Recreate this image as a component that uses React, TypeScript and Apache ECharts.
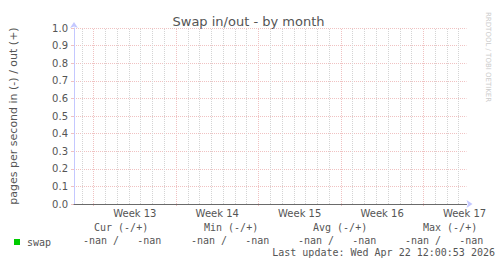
import { useEffect, useRef } from 'react';
import * as echarts from 'echarts';

const chartTitle = 'Swap in/out - by month';
const yAxisName = 'pages per second in (-) / out (+)';
const credit = 'RRDTOOL / TOBI OETIKER';

// x axis unit: hours relative to the start of Week 13
const xMin = -40;
const xMax = 760;
const weekLabels = ['Week 13', 'Week 14', 'Week 15', 'Week 16', 'Week 17'];
const weekLabelHours = [84, 252, 420, 588, 756];
const weekStartHours = [0, 168, 336, 504, 672];
const dayHours = [
  -24, 24, 48, 72, 96, 120, 144, 192, 216, 240, 264, 288, 312, 360, 384, 408,
  432, 456, 480, 528, 552, 576, 600, 624, 648, 696, 720, 744,
];

const yMin = 0;
const yMax = 1;
const yInterval = 0.1;

// series: no data (all NaN)
const sampleHours = [-40, 760];
const swapIn: (number | null)[] = [null, null];
const swapOut: (number | null)[] = [null, null];

const legendHeaders = ['Cur (-/+)', 'Min (-/+)', 'Avg (-/+)', 'Max (-/+)'];
const legendValues = ['-nan /   -nan', '-nan /   -nan', '-nan /   -nan', '-nan /   -nan'];
const lastUpdate = 'Last update: Wed Apr 22 12:00:53 2026';

const headerX = [94, 204, 313, 423];
const valueX = [83, 191, 298, 405];

export default function App() {
  const ref = useRef<HTMLDivElement>(null);
  useEffect(() => {
    if (!ref.current) return;
    const chart = echarts.init(ref.current, null, { renderer: 'svg' });
    const txt = '#555555';
    const mono = 'DejaVu Sans Mono';
    const pink = '#f0c2c2';
    const gray = '#d4d4d4';
    const graphics: any[] = [];
    legendHeaders.forEach((h, i) => {
      graphics.push({
        type: 'text', x: headerX[i], y: 227,
        style: { text: h, fill: txt, font: `10px "${mono}"`, textVerticalAlign: 'middle' },
      });
    });
    legendValues.forEach((v, i) => {
      graphics.push({
        type: 'text', x: valueX[i], y: 240,
        style: { text: v, fill: txt, font: `10px "${mono}"`, textVerticalAlign: 'middle' },
      });
    });
    graphics.push({
      type: 'text', x: 495, y: 252,
      style: { text: lastUpdate, fill: txt, font: `10px "${mono}"`, textAlign: 'right', textVerticalAlign: 'middle' },
    });
    graphics.push({
      type: 'text', x: 488, y: 12, rotation: -Math.PI / 2,
      style: { text: credit, fill: '#cccccc', font: '7px "DejaVu Sans"', textAlign: 'left', textVerticalAlign: 'middle' },
    });

    const markData: any[] = [
      ...dayHours.map((h) => ({ xAxis: h, lineStyle: { color: gray, type: [1, 1], width: 1 } })),
      ...weekStartHours.map((h) => ({ xAxis: h, lineStyle: { color: pink, type: [1, 1], width: 1 } })),
    ];

    chart.setOption({
      animation: false,
      backgroundColor: '#ffffff',
      textStyle: { fontFamily: 'DejaVu Sans' },
      title: {
        text: chartTitle, left: 'center', top: 10,
        textStyle: { fontSize: 13, fontWeight: 'normal', color: '#555555', fontFamily: 'DejaVu Sans' },
      },
      legend: {
        data: ['swap'], left: 14, top: 237, padding: 0, icon: 'rect', itemWidth: 6, itemHeight: 6,
        itemGap: 0, textStyle: { fontFamily: mono, fontSize: 10, color: txt, padding: [0, 0, 0, 2] },
      },
      grid: { left: 66.5, top: 28, right: 30.5, bottom: 60, containLabel: false },
      xAxis: [
        {
          type: 'value', min: xMin, max: xMax, position: 'bottom',
          axisLine: { show: true, onZero: false, lineStyle: { color: '#c4c8ff' }, symbol: ['none', 'arrow'], symbolSize: [6, 6], symbolOffset: [0, 6] },
          axisTick: { show: true, customValues: weekStartHours, length: 2, inside: false, lineStyle: { color: pink } },
          axisLabel: {
            customValues: weekLabelHours, margin: 4, fontSize: 10, color: txt, fontFamily: 'DejaVu Sans',
            formatter: (v: number) => weekLabels[weekLabelHours.indexOf(v)] ?? '',
          },
          splitLine: { show: false },
        },
        {
          type: 'value', min: xMin, max: xMax, position: 'bottom', offset: 0, z: 5,
          axisLine: { show: true, onZero: false, lineStyle: { color: '#6a6a6a' } },
          axisTick: { show: false }, axisLabel: { show: false }, splitLine: { show: false },
        },
      ],
      yAxis: {
        type: 'value', min: yMin, max: yMax, interval: yInterval,
        name: yAxisName, nameLocation: 'middle', nameRotate: 90, nameGap: 55,
        nameTextStyle: { fontSize: 11, color: txt, fontFamily: 'DejaVu Sans' },
        axisLine: { show: true, onZero: false, lineStyle: { color: '#c4c8ff' }, symbol: ['none', 'arrow'], symbolSize: [6, 6], symbolOffset: [0, 6] },
        axisTick: { show: true, length: 3, lineStyle: { color: pink } },
        axisLabel: { margin: 6, fontSize: 10, color: txt, fontFamily: 'DejaVu Sans', formatter: (v: number) => v.toFixed(1) },
        splitLine: { show: true, lineStyle: { color: pink, type: [1, 1], width: 1 } },
      },
      series: [
        {
          name: 'swap', type: 'line', color: '#00cc00', showSymbol: false,
          data: sampleHours.map((h, i) => [h, swapIn[i]]),
          markLine: { silent: true, symbol: ['none', 'none'], label: { show: false }, animation: false, data: markData },
        },
        {
          name: 'swap', type: 'line', color: '#00cc00', showSymbol: false,
          data: sampleHours.map((h, i) => [h, swapOut[i]]),
        },
      ],
      graphic: graphics,
    });
    return () => chart.dispose();
  }, []);
  return <div ref={ref} style={{ position: 'absolute', left: 0, top: 0, width: 497, height: 264 }} />;
}
